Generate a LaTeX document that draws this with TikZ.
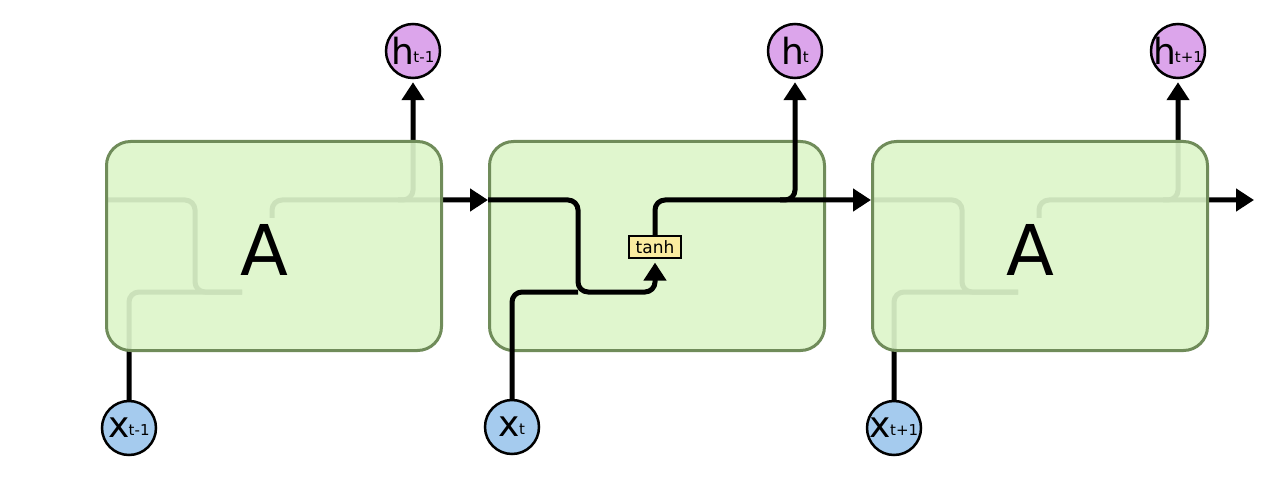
\documentclass[tikz,border=0pt]{standalone}
\usepackage{fontspec}
\setmainfont{DejaVu Sans}
\usetikzlibrary{positioning}
\usetikzlibrary{arrows.meta}
\pgfdeclarelayer{ghost}
\pgfsetlayers{ghost,main}
\definecolor{cellfill}{RGB}{221,245,202}
\definecolor{celledge}{RGB}{112,140,90}
\definecolor{hfill}{RGB}{220,165,235}
\definecolor{xfill}{RGB}{165,203,238}
\definecolor{gatefill}{RGB}{250,236,160}
\newcommand{\circtxt}[2]{\makebox[40pt]{#1\kern-1pt{\fontsize{15}{15}\selectfont\raisebox{2pt}{#2}}}}

\begin{document}
\begin{tikzpicture}[x=1pt,y=-1pt,
 cell/.style={draw=celledge,line width=3pt,fill=cellfill,fill opacity=0.92,rounded corners=24pt,minimum width=335pt,minimum height=209pt,inner sep=0pt},
 hcirc/.style={circle,draw,line width=2.5pt,fill=hfill,minimum size=54pt,inner sep=0pt,font=\fontsize{36}{36}\selectfont},
 xcirc/.style={circle,draw,line width=2.5pt,fill=xfill,minimum size=54pt,inner sep=0pt,font=\fontsize{36}{36}\selectfont},
 gate/.style={draw,line width=1.2pt,fill=gatefill,minimum width=52pt,minimum height=22pt,inner sep=0pt,font=\fontsize{17}{17}\selectfont},
 wire/.style={line width=5pt,rounded corners=10pt},
 >={Triangle[length=18pt,width=22pt]}]
\useasboundingbox (0,0) rectangle (1269,481);

% the three cells
\node[cell] (A1) at (274,246) {};
\node[cell,right=45pt of A1] (A2) {};
\node[cell,right=45pt of A2] (A3) {};
\node[font=\fontsize{70}{70}\selectfont] (labelA1) at (264,250) {A};
\node[font=\fontsize{70}{70}\selectfont] (labelA3) at (1030,250) {A};

% inputs and outputs
\node[hcirc] (h1) at (413,51) {\circtxt{h}{t-1}};
\node[hcirc] (h2) at (795,51) {\circtxt{h}{t}};
\node[hcirc] (h3) at (1178,51) {\circtxt{h}{t+1}};
\node[xcirc] (x1) at (129,428) {\circtxt{x}{t-1}};
\node[xcirc] (x2) at (512,427) {\circtxt{x}{t}};
\node[xcirc] (x3) at (894,428) {\circtxt{x}{t+1}};
\coordinate (out3) at (1254,200);

% wires behind the first and last cell
\begin{pgfonlayer}{ghost}
 \draw[wire] (A1.west |- 0,200) -- (195,200) -- (195,292) -- (242,292);
 \draw[wire] (x1) -- (129,292) -- (242,292);
 \draw[wire,->] (272,218) -- (272,200) -- (A2.west |- 0,200);
 \draw[wire,->,shorten >=3pt] (398,200) -- (413,200) -- (h1);
 \draw[wire] (A3.west |- 0,200) -- (962,200) -- (962,292) -- (1018,292);
 \draw[wire] (x3) -- (894,292) -- (1018,292);
 \draw[wire,->] (1039,218) -- (1039,200) -- (out3);
 \draw[wire,->,shorten >=3pt] (1163,200) -- (1178,200) -- (h3);
\end{pgfonlayer}

% middle cell
\node[gate] (tanh) at (655,247) {tanh};
\draw[wire,->,shorten >=4pt] (A2.west |- 0,200) -- (578,200) -- (578,292) -- (655,292) -- (tanh);
\draw[wire] (x2) -- (512,292) -- (578,292);
\draw[wire,->] (tanh) -- (655,200) -- (A3.west |- 0,200);
\draw[wire,->,shorten >=3pt] (780,200) -- (795,200) -- (h2);
\end{tikzpicture}
\end{document}
